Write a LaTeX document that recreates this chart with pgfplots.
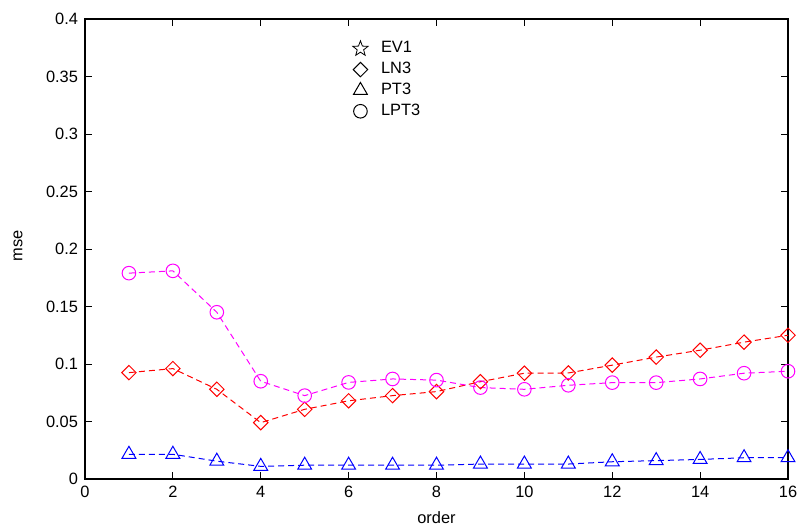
\documentclass[border=0pt]{standalone}
\usepackage{fontspec}
\setmainfont{Liberation Sans}
\usepackage{pgfplots}
\pgfplotsset{compat=1.18}

% MATLAB-style outline five-point star
\pgfdeclareplotmark{pentagram}{%
  \pgfpathmoveto{\pgfqpointpolar{90}{\pgfplotmarksize}}%
  \pgfpathlineto{\pgfqpointpolar{126}{0.42\pgfplotmarksize}}%
  \pgfpathlineto{\pgfqpointpolar{162}{\pgfplotmarksize}}%
  \pgfpathlineto{\pgfqpointpolar{198}{0.42\pgfplotmarksize}}%
  \pgfpathlineto{\pgfqpointpolar{234}{\pgfplotmarksize}}%
  \pgfpathlineto{\pgfqpointpolar{270}{0.42\pgfplotmarksize}}%
  \pgfpathlineto{\pgfqpointpolar{306}{\pgfplotmarksize}}%
  \pgfpathlineto{\pgfqpointpolar{342}{0.42\pgfplotmarksize}}%
  \pgfpathlineto{\pgfqpointpolar{18}{\pgfplotmarksize}}%
  \pgfpathlineto{\pgfqpointpolar{54}{0.42\pgfplotmarksize}}%
  \pgfpathclose\pgfusepathqstroke}

\definecolor{mmag}{rgb}{1,0,1}

\begin{document}
\begin{tikzpicture}[font=\fontsize{8.2pt}{10pt}\selectfont]
\begin{axis}[
    at={(0,0)}, anchor=south west,
    scale only axis,
    width=351.5pt,
    height=230pt,
    xmin=0, xmax=16,
    ymin=0, ymax=0.4,
    xtick={0,2,4,6,8,10,12,14,16},
    ytick={0,0.05,0.1,0.15,0.2,0.25,0.3,0.35,0.4},
    tick align=inside,
    major tick length=3.5pt,
    tick style={black, line width=0.5pt},
    axis line style={line width=0.6pt},
    /pgf/number format/assume math mode=true,
    yticklabel style={/pgf/number format/fixed, /pgf/number format/precision=2},
    xlabel={order},
    ylabel={mse},
    xlabel style={at={(axis description cs:0.5,-0.083)}, anchor=center},
    ylabel style={at={(axis description cs:-0.0953,0.507)}, anchor=center, rotate=0},
    legend style={draw=none, fill=none, at={(axis cs:5.95,0.3876)}, anchor=north west,
        font=\fontsize{8.2pt}{10pt}\selectfont, row sep=-0.8pt,
        /tikz/every odd column/.append style={column sep=4.5pt}},
    legend cell align=left,
    legend image code/.code={\draw[#1] plot coordinates {(0pt,0pt)};},
]
\addlegendimage{only marks, black, mark=pentagram, mark size=4pt, line width=0.4pt}
\addlegendentry{EV1}
\addlegendimage{only marks, black, mark=square, mark size=2.55pt, mark options={rotate=45}, line width=0.5pt}
\addlegendentry{LN3}
\addlegendimage{only marks, black, mark=triangle, mark size=4pt, line width=0.5pt}
\addlegendentry{PT3}
\addlegendimage{only marks, black, mark=o, mark size=3.4pt, line width=0.5pt}
\addlegendentry{LPT3}

% LN3
\addplot[forget plot, red, line width=0.5pt, dash pattern=on 3pt off 2pt,
    mark=square, mark size=2.55pt, mark options={solid, rotate=45}] coordinates {
    (1,0.0925) (2,0.096) (3,0.078) (4,0.049) (5,0.0606) (6,0.068) (7,0.0725) (8,0.076)
    (9,0.0846) (10,0.092) (11,0.0922) (12,0.099) (13,0.106) (14,0.112) (15,0.119) (16,0.125)
};
% PT3
\addplot[forget plot, blue, line width=0.5pt, dash pattern=on 3pt off 2pt,
    mark=triangle, mark size=4pt, mark options={solid}] coordinates {
    (1,0.0215) (2,0.0215) (3,0.0155) (4,0.011) (5,0.012) (6,0.012) (7,0.012) (8,0.012)
    (9,0.013) (10,0.013) (11,0.013) (12,0.015) (13,0.016) (14,0.017) (15,0.0185) (16,0.0185)
};
% LPT3
\addplot[forget plot, mmag, line width=0.5pt, dash pattern=on 3pt off 2pt,
    mark=o, mark size=3.4pt, mark options={solid}] coordinates {
    (1,0.179) (2,0.181) (3,0.145) (4,0.085) (5,0.0725) (6,0.084) (7,0.087) (8,0.086)
    (9,0.0795) (10,0.078) (11,0.0815) (12,0.0838) (13,0.0838) (14,0.087) (15,0.092) (16,0.0937)
};
\end{axis}
\pgfresetboundingbox
\path[use as bounding box] (-42.5pt,-26pt) rectangle (358.5pt,239.5pt);
\end{tikzpicture}
\end{document}
